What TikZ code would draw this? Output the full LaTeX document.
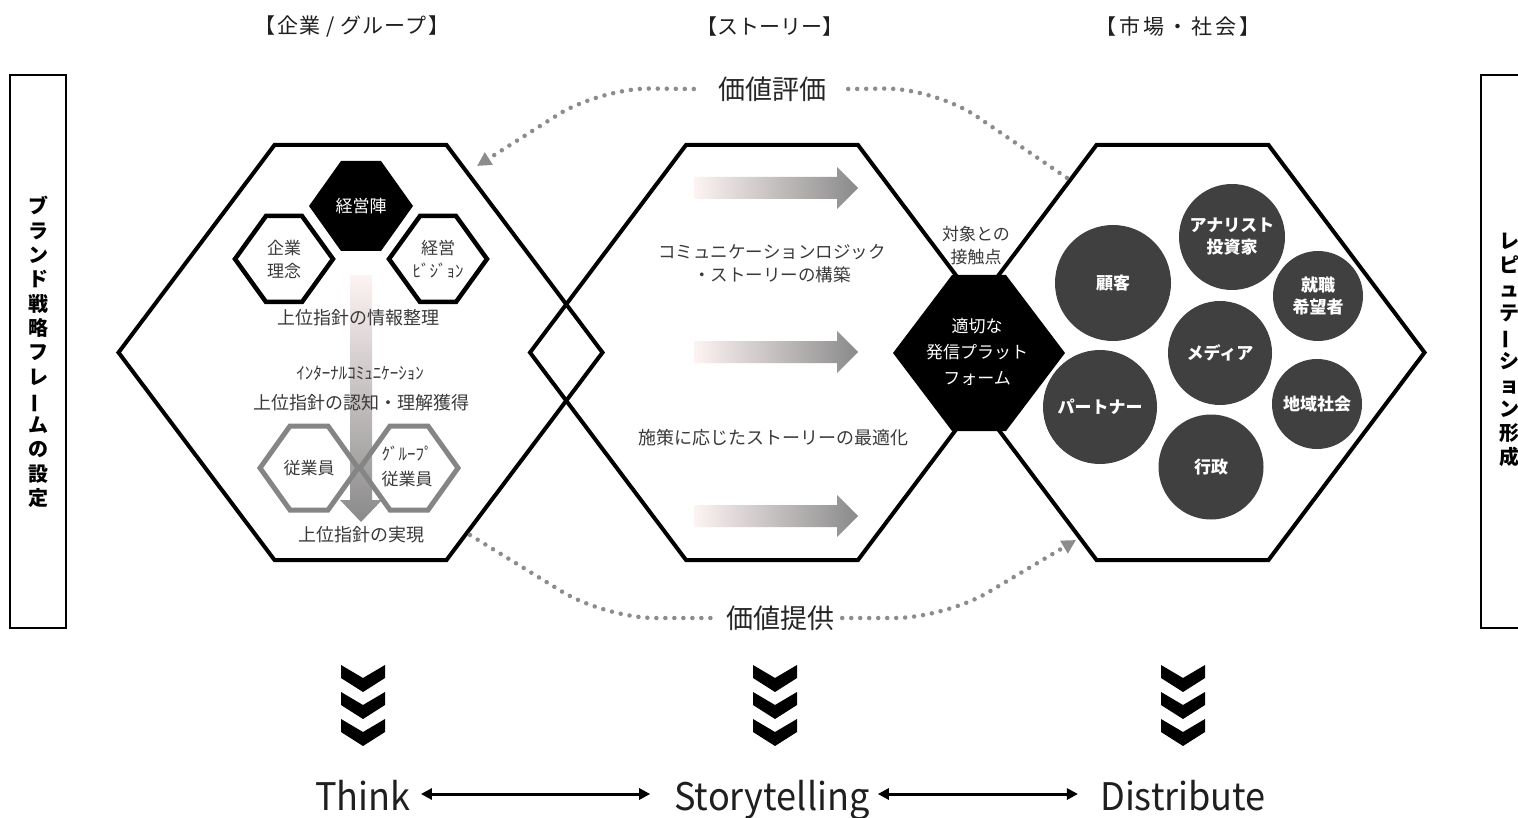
\documentclass[tikz,border=0pt]{standalone}
\usepackage{fontspec}
\setmainfont{Noto Sans CJK JP}
\newfontfamily\condfont[FakeStretch=0.95]{Noto Sans CJK JP}
\usetikzlibrary{arrows.meta,calc}
\definecolor{txt}{HTML}{3A3A3A}
\definecolor{dotc}{HTML}{8C8C8C}
\definecolor{circ}{HTML}{404040}
\definecolor{pinkw}{HTML}{FDF3F3}
\definecolor{midg}{HTML}{E4E1E1}
\definecolor{grarr}{HTML}{8A8A8A}
\definecolor{hexgray}{HTML}{858585}
\newcommand\fsz[2]{\fontsize{#1pt}{#2pt}\selectfont}
\tikzset{
  pics/hexa/.style args={#1/#2/#3}{code={\path[pic actions] (-#1,0) -- (-#2,-#3) -- (#2,-#3) -- (#1,0) -- (#2,#3) -- (-#2,#3) -- cycle;}},
  pics/chev/.style={code={\fill[black] (-22,0) -- (0,13) -- (22,0) -- (22,13) -- (0,27) -- (-22,13) -- cycle;}},
  bighex/.style={draw=black, line width=4pt},
  smallhex/.style={draw=black, line width=4.5pt},
  grayhex/.style={draw=hexgray, line width=5pt},
  dotline/.style={draw=dotc, line width=4.5pt, line cap=round, dash pattern=on 0pt off 9pt},
  dottip/.style={-{Triangle[length=14pt,width=14pt,fill=dotc,color=dotc]}},
  circnode/.style={circle, fill=circ, text=white, font=\bfseries\fsz{17}{22}},
  sidebox/.style={draw=black, line width=2.5pt},
  dblarrow/.style={line width=3pt, {Triangle[length=11pt,width=11pt]}-{Triangle[length=11pt,width=11pt]}},
  bigword/.style={font=\condfont\fsz{38}{42}, text=black!88, text height=28pt, text depth=0pt},
  header/.style={text=black!88},
}
\begin{document}
\begin{tikzpicture}[x=1pt,y=-1pt,
  every node/.style={inner sep=0pt, text=txt, align=center}]
\useasboundingbox (0,0) rectangle (1518,818);
\clip (0,0) rectangle (1518,818);
\fill[white] (0,0) rectangle (1518,818);

% header labels
\node[header, font={\fsz{21}{24}\addfontfeatures{LetterSpace=6}}] (hdL) at (352,27) {【企業 / グループ】};
\node[header, font={\fsz{21}{24}}] (hdM) at (770,27) {【ストーリー】};
\node[header, font={\fsz{21}{24}\addfontfeatures{LetterSpace=14}}] (hdR) at (1178,27) {【市場・社会】};

% big hexagons
\coordinate (hexL) at (360.5,352.5);
\coordinate (hexM) at (772,352.5);
\coordinate (hexR) at (1182.5,352.5);
\pic[bighex] at (hexL) {hexa=242/86/207.5};
\pic[bighex] at (hexM) {hexa=242/86/207.5};
\pic[bighex] at (hexR) {hexa=242/86/207.5};

% platform hexagon
\coordinate (plat) at (979,353);
\pic[fill=black] at (plat) {hexa=86/27/78};
\node[text=white, font=\fsz{17}{26}] (platT) at (977,352) {適切な\\発信プラット\\フォーム};
\node[font=\fsz{17}{23}] (touch) at (976,246) {対象との\\接触点};

% down gradient arrow in left hexagon
\shade[top color=pinkw, middle color=midg, bottom color=grarr]
  (350,275) -- (372,275) -- (372,500) -- (382,500) -- (361,522) -- (340,500) -- (350,500) -- cycle;

% small hexagons
\coordinate (hKei) at (361,206);
\coordinate (hRin) at (284,259);
\coordinate (hVis) at (438,259);
\coordinate (hJu) at (309,468);
\coordinate (hGr) at (409,468);
\pic[fill=black] at (hKei) {hexa=52/20/45};
\pic[smallhex] at (hRin) {hexa=49/18/43};
\pic[smallhex] at (hVis) {hexa=49/18/43};
\pic[grayhex] at (hJu) {hexa=49/19/42};
\pic[grayhex] at (hGr) {hexa=49/19/42};

\node[text=white, font=\fsz{17}{22}] (tKei) at (361,206) {経営陣};
\node[font=\fsz{17}{23}] (tRin) at (284,259) {企業\\理念};
\node[font=\fsz{17}{23}] (tVis) at (438,259) {経営\\ﾋﾞｼﾞｮﾝ};
\node[font=\fsz{17}{22}] (tJu) at (309,468) {従業員};
\node[font=\fsz{17}{25}] (tGr) at (407,466) {ｸﾞﾙｰﾌﾟ\\従業員};

\node[font=\fsz{18}{22}] (info) at (358,318) {上位指針の情報整理};
\node[font=\fsz{17}{22}] (intc) at (360,373) {ｲﾝﾀｰﾅﾙｺﾐｭﾆｹｰｼｮﾝ};
\node[font=\fsz{18}{22}] (recog) at (361,403) {上位指針の認知・理解獲得};
\node[font=\fsz{18}{22}] (real) at (361,535) {上位指針の実現};

% middle gradient arrows
\shade[left color=pinkw, middle color=midg, right color=grarr]
  (694,177) -- (837,177) -- (837,167) -- (858,188) -- (837,209) -- (837,199) -- (694,199) -- cycle;
\shade[left color=pinkw, middle color=midg, right color=grarr]
  (694,341) -- (837,341) -- (837,331) -- (858,352) -- (837,373) -- (837,363) -- (694,363) -- cycle;
\shade[left color=pinkw, middle color=midg, right color=grarr]
  (694,505) -- (837,505) -- (837,495) -- (858,516) -- (837,537) -- (837,527) -- (694,527) -- cycle;

\node[font=\fsz{17.5}{23}] (logic) at (772,264) {コミュニケーションロジック\\・ストーリーの構築};
\node[font=\fsz{18}{22}] (optim) at (773,438) {施策に応じたストーリーの最適化};

% circles
\node[circnode, minimum size=116pt] (cKo) at (1113,283) {顧客};
\node[circnode, minimum size=106pt] (cAn) at (1232,237) {アナリスト\\投資家};
\node[circnode, minimum size=90pt] (cSh) at (1318,296) {就職\\希望者};
\node[circnode, minimum size=104pt] (cMe) at (1220,353) {メディア};
\node[circnode, minimum size=114pt] (cPa) at (1100,407) {パートナー};
\node[circnode, minimum size=90pt] (cCh) at (1317,404) {地域社会};
\node[circnode, minimum size=105pt] (cGy) at (1211,467) {行政};

% dotted value connectors
\node[font=\fsz{27}{30}, text=black!85] (val) at (772,89) {価値評価};
\node[font=\fsz{27}{30}, text=black!85] (prov) at (780,618) {価値提供};
\coordinate (lhexTR) at (477,166);
\coordinate (rhexTL) at (1070,180);
\coordinate (lhexBR) at (470,535);
\coordinate (rhexBL) at (1076,540);
\draw[dotline, dottip, rounded corners=50pt] ([xshift=-24pt]val.west) -- (600,88) -- (lhexTR);
\draw[dotline, rounded corners=50pt] ([xshift=22pt]val.east) -- (935,88) -- (rhexTL);
\draw[dotline, rounded corners=50pt] (lhexBR) -- (605,618) -- ([xshift=-8pt]prov.west);
\draw[dotline, dottip, rounded corners=50pt] ([xshift=8pt]prov.east) -- (945,618) -- (rhexBL);

% side boxes
\node[sidebox, minimum width=56pt, minimum height=553pt] (sideL) at (38,351.5) {};
\node[font=\bfseries\fsz{20}{24.3}, text=black] (sideLT) at (38,352)
  {ブ\\ラ\\ン\\ド\\戦\\略\\フ\\レ\\\rotatebox[origin=c]{90}{ー}\\ム\\の\\設\\定};
\node[sidebox, minimum width=56pt, minimum height=553pt] (sideR) at (1509,351.5) {};
\node[font=\bfseries\fsz{20}{24}, text=black] (sideRT) at (1509,350)
  {レ\\ピ\\ュ\\テ\\\rotatebox[origin=c]{90}{ー}\\シ\\ョ\\ン\\形\\成};

% chevrons
\foreach \cx in {363,775,1183}{
  \foreach \cy in {665,692,719}{
    \pic at (\cx,\cy) {chev};
  }
}

% bottom words
\node[bigword] (think) at (363,796) {Think};
\node[bigword] (story) at (772,796) {Storytelling};
\node[bigword] (dist) at (1183,796) {Distribute};
\draw[dblarrow] ([xshift=10pt,yshift=2pt]think.east) -- ([xshift=-24pt,yshift=2pt]story.west);
\draw[dblarrow] ([xshift=8pt,yshift=2pt]story.east) -- ([xshift=-22pt,yshift=2pt]dist.west);
\end{tikzpicture}
\end{document}
